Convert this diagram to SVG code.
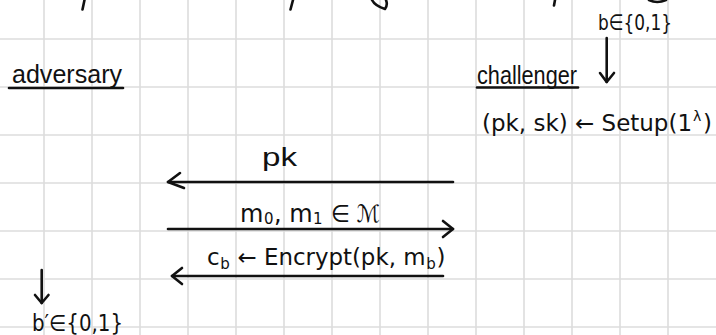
<svg xmlns="http://www.w3.org/2000/svg" width="716" height="335" viewBox="0 0 716 335">
  <style>
    .grid line { stroke: #dcdcdc; stroke-width: 1.6; }
    .ink { stroke: #111; stroke-width: 2.6; fill: none; stroke-linecap: round; stroke-linejoin: round; }
    .t { font-family: "Liberation Sans", "DejaVu Sans", sans-serif; fill: #111; }
    .m { font-family: "DejaVu Sans", "Liberation Sans", sans-serif; fill: #111; }
  </style>
  <rect width="716" height="335" fill="#ffffff"/>
  <g class="grid" id="grid">
    <line x1="44" y1="0" x2="44" y2="335"/>
    <line x1="92" y1="0" x2="92" y2="335"/>
    <line x1="140" y1="0" x2="140" y2="335"/>
    <line x1="188" y1="0" x2="188" y2="335"/>
    <line x1="236" y1="0" x2="236" y2="335"/>
    <line x1="284" y1="0" x2="284" y2="335"/>
    <line x1="332" y1="0" x2="332" y2="335"/>
    <line x1="380" y1="0" x2="380" y2="335"/>
    <line x1="428" y1="0" x2="428" y2="335"/>
    <line x1="476" y1="0" x2="476" y2="335"/>
    <line x1="524" y1="0" x2="524" y2="335"/>
    <line x1="572" y1="0" x2="572" y2="335"/>
    <line x1="620" y1="0" x2="620" y2="335"/>
    <line x1="668" y1="0" x2="668" y2="335"/>
    <line x1="0" y1="39" x2="716" y2="39"/>
    <line x1="0" y1="87" x2="716" y2="87"/>
    <line x1="0" y1="135" x2="716" y2="135"/>
    <line x1="0" y1="183" x2="716" y2="183"/>
    <line x1="0" y1="231" x2="716" y2="231"/>
    <line x1="0" y1="279" x2="716" y2="279"/>
    <line x1="0" y1="327" x2="716" y2="327"/>
  </g>
  <g id="top-fragments" class="ink">
    <path d="M84.5 0 L82.5 9.5"/>
    <path d="M293 0 L290.5 9.5"/>
    <path d="M372 0 Q375 6 385 9 Q388 5 386 0"/>
    <path d="M555 0 L554 5.5"/>
    <path d="M649 0 Q657 4 666 0"/>
  </g>
  <g id="adversary">
    <text class="t" x="12" y="83" font-size="25" textLength="110" lengthAdjust="spacingAndGlyphs">adversary</text>
    <line class="ink" x1="9" y1="88" x2="123" y2="88"/>
  </g>
  <g id="challenger">
    <text class="t" x="477" y="84" font-size="25" textLength="100" lengthAdjust="spacingAndGlyphs">challenger</text>
    <line class="ink" x1="477" y1="87.5" x2="578" y2="87.5"/>
  </g>
  <g id="challenger-bit">
    <text class="m" x="598" y="30" font-size="22" textLength="74" lengthAdjust="spacingAndGlyphs">b∈{0,1}</text>
  </g>
  <g id="setup">
    <text class="m" x="482" y="131" font-size="23" textLength="210" lengthAdjust="spacingAndGlyphs">(pk, sk) ← Setup(1</text>
    <text class="m" x="693" y="121" font-size="14">λ</text>
    <text class="m" x="703" y="131" font-size="23">)</text>
  </g>
  <g id="adversary-guess">
    <text class="m" x="32" y="331" font-size="23" textLength="91" lengthAdjust="spacingAndGlyphs">b′∈{0,1}</text>
  </g>
  <g id="connectors">
    <g id="bit-arrow">
      <line class="ink" x1="606.7" y1="38" x2="606.7" y2="82"/>
      <polyline class="ink" points="600,73 606.7,82 614,73"/>
    </g>
    <g id="guess-arrow">
      <line class="ink" x1="41.7" y1="270" x2="41.7" y2="303"/>
      <polyline class="ink" points="35,295 41.7,303 48.5,295"/>
    </g>
    <g id="pk-arrow">
      <line class="ink" x1="168" y1="182" x2="453" y2="182"/>
      <polyline class="ink" points="180,173 168,182 184,188"/>
      <text class="t" x="262" y="166" font-size="26" textLength="35" lengthAdjust="spacingAndGlyphs">pk</text>
    </g>
    <g id="messages-arrow">
      <line class="ink" x1="168" y1="229" x2="453" y2="229"/>
      <polyline class="ink" points="443,221 453,229 443,237"/>
      <text class="m" x="240" y="222" font-size="24">m</text>
      <text class="m" x="264" y="224" font-size="15">0</text>
      <text class="m" x="274" y="222" font-size="24">, m</text>
      <text class="m" x="313" y="224" font-size="15">1</text>
      <text class="m" x="331" y="222" font-size="24" textLength="49" lengthAdjust="spacingAndGlyphs">∈ ℳ</text>
    </g>
    <g id="ciphertext-arrow">
      <line class="ink" x1="443" y1="276" x2="172" y2="276"/>
      <polyline class="ink" points="182,268 172,276 182,284"/>
      <text class="m" x="207" y="265" font-size="23">c</text>
      <text class="m" x="220.3" y="269" font-size="15">b</text>
      <text class="m" x="237.5" y="265" font-size="23" textLength="188" lengthAdjust="spacingAndGlyphs">← Encrypt(pk, m</text>
      <text class="m" x="426.3" y="269" font-size="15">b</text>
      <text class="m" x="436.5" y="265" font-size="23">)</text>
    </g>
  </g>
</svg>
